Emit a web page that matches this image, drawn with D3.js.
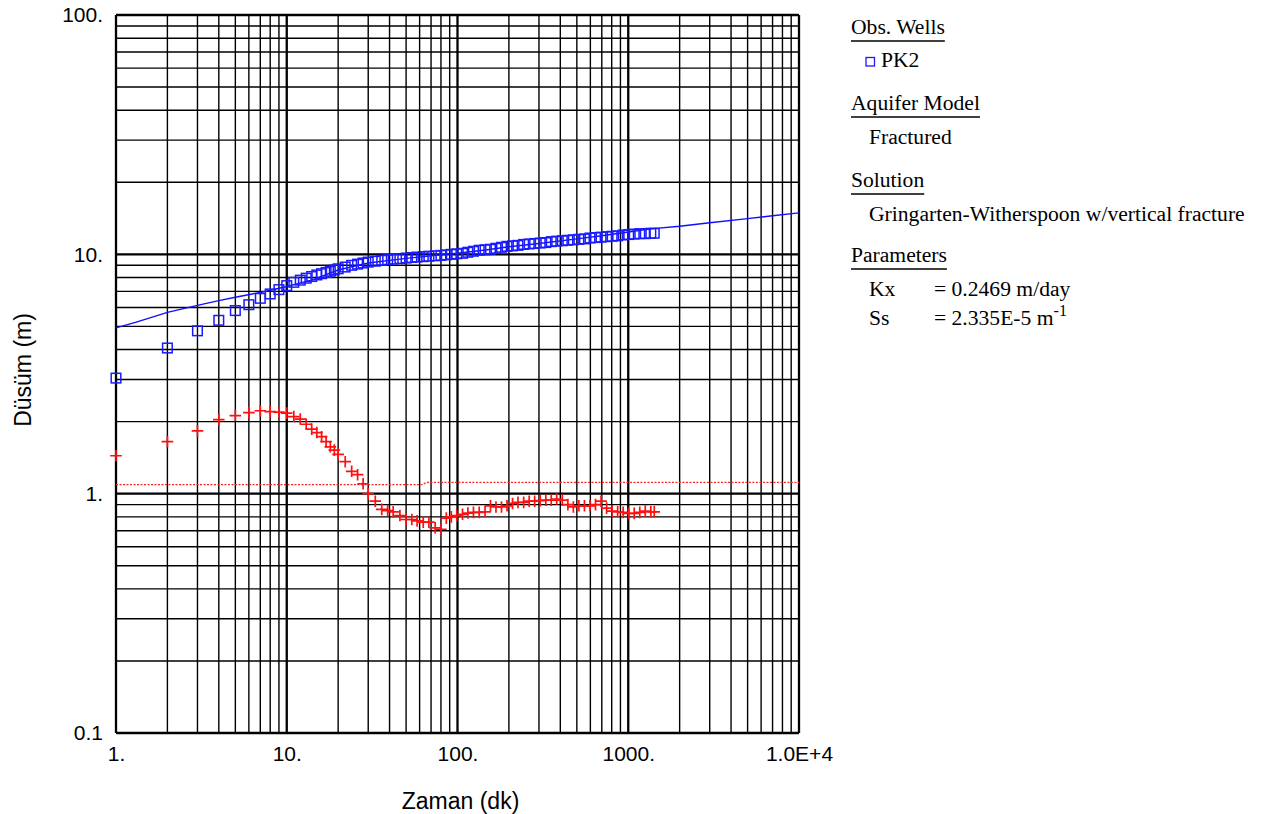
<!DOCTYPE html>
<html><head><meta charset="utf-8">
<script src="https://cdn.jsdelivr.net/npm/d3@7"></script>
<style>body{margin:0;background:#fff}</style>
</head><body><svg id="c" width="1270" height="814"></svg>
<script>
const times = [1,2,3,4,5,6,7,8,9,10,11,12,13,14,15,16,17,18,19,20,22,24,26,28,30,33,36,39,42,46,50,54,58,63,68,74,80,86,92,99,107,115,124,134,145,156,168,181,195,210,226,244,263,283,305,329,354,381,411,443,477,514,554,597,643,693,747,805,867,934,1006,1084,1168,1258,1356,1420];
const pk2Drawdown = [3.04,4.06,4.79,5.30,5.82,6.16,6.55,6.83,7.12,7.40,7.64,7.80,7.95,8.08,8.2,8.3,8.4,8.5,8.6,8.7,8.85,9.0,9.1,9.2,9.28,9.36,9.44,9.5,9.55,9.6,9.65,9.7,9.74,9.78,9.82,9.86,9.9,9.95,10.0,10.05,10.1,10.2,10.3,10.4,10.45,10.5,10.6,10.7,10.8,10.85,10.9,11.0,11.05,11.1,11.15,11.2,11.3,11.35,11.4,11.45,11.5,11.55,11.6,11.7,11.75,11.8,11.85,11.9,11.95,12.05,12.1,12.15,12.2,12.2,12.25,12.25];
const pk2Derivative = [1.44,1.65,1.83,2.04,2.12,2.18,2.22,2.20,2.19,2.17,2.10,2.05,1.95,1.86,1.80,1.73,1.65,1.57,1.52,1.46,1.36,1.24,1.20,1.10,1.00,0.93,0.86,0.85,0.84,0.81,0.78,0.78,0.77,0.76,0.76,0.72,0.71,0.79,0.80,0.81,0.82,0.83,0.835,0.835,0.84,0.89,0.88,0.88,0.89,0.91,0.92,0.92,0.93,0.93,0.935,0.94,0.94,0.95,0.94,0.90,0.88,0.89,0.89,0.89,0.90,0.93,0.87,0.845,0.84,0.835,0.827,0.827,0.835,0.845,0.84,0.84];
const fitTimes = [1,1.3,2,3,4,5,7,10,14,20,30,50,70,100,150,200,300,500,700,1000,1400,2000,3000,5000,7000,10000];
const fitDrawdown = [4.93,5.2,5.72,6.12,6.41,6.62,6.93,7.34,7.8,8.6,9.2,9.62,9.85,10.1,10.45,10.75,11.1,11.6,11.95,12.4,12.8,13.1,13.55,14.1,14.5,14.9];
const fitDerivTimes = [1,62,66,10000];
const fitDerivative = [1.09,1.09,1.115,1.115];
const xTickValues = [1,10,100,1000,10000];
const xTickLabels = ["1.","10.","100.","1000.","1.0E+4"];
const yTickValues = [0.1,1,10,100];
const yTickLabels = ["0.1","1.","10.","100."];

const svg = d3.select("#c");
const L=116, R=799, T=15, B=733;
const x = d3.scaleLog().domain([1,1e4]).range([L,R]);
const y = d3.scaleLog().domain([0.1,100]).range([B,T]);

const grid = svg.append("g");
const isMajor = v => Math.abs(Math.log10(v) - Math.round(Math.log10(v))) < 1e-9;
x.ticks().forEach(v=>{
  grid.append("line").attr("x1",x(v)).attr("x2",x(v)).attr("y1",T).attr("y2",B)
    .attr("stroke","#000").attr("stroke-width",isMajor(v)?2.3:1.4);
});
y.ticks().forEach(v=>{
  grid.append("line").attr("x1",L).attr("x2",R).attr("y1",y(v)).attr("y2",y(v))
    .attr("stroke","#000").attr("stroke-width",isMajor(v)?2.3:1.4);
});

const ax = svg.append("g").attr("transform",`translate(0,${B})`)
  .call(d3.axisBottom(x).tickValues(xTickValues).tickFormat((d,i)=>xTickLabels[i]).tickSize(0).tickPadding(13));
const ay = svg.append("g").attr("transform",`translate(${L},0)`)
  .call(d3.axisLeft(y).tickValues(yTickValues).tickFormat((d,i)=>yTickLabels[i]).tickSize(0).tickPadding(13));
[ax,ay].forEach(a=>{a.select(".domain").remove();
  a.selectAll("text").attr("font-family","Liberation Sans, Arial, sans-serif").attr("font-size",21).attr("fill","#000");});

svg.append("text").attr("x",(L+R)/2+3).attr("y",809).attr("text-anchor","middle")
  .attr("font-family","Liberation Sans, Arial, sans-serif").attr("font-size",23).text("Zaman (dk)");
svg.append("text").attr("transform",`translate(31,${(T+B)/2-4}) rotate(-90)`).attr("text-anchor","middle")
  .attr("font-family","Liberation Sans, Arial, sans-serif").attr("font-size",23).text("Düsüm (m)");

const plot = svg.append("g");
plot.append("path").datum(fitDerivTimes.map((t,i)=>[t,fitDerivative[i]]))
  .attr("d",d3.line().x(d=>x(d[0])).y(d=>y(d[1])))
  .attr("fill","none").attr("stroke","#ff2020").attr("stroke-width",1.3).attr("stroke-dasharray","2,1.5");
plot.append("path").datum(fitTimes.map((t,i)=>[t,fitDrawdown[i]]))
  .attr("d",d3.line().x(d=>x(d[0])).y(d=>y(d[1])))
  .attr("fill","none").attr("stroke","#1010ff").attr("stroke-width",1.4);

const s=4.8;
plot.selectAll("rect.sq").data(times.map((t,i)=>[t,pk2Drawdown[i]])).join("rect").attr("class","sq")
  .attr("x",d=>x(d[0])-s).attr("y",d=>y(d[1])-s).attr("width",2*s).attr("height",2*s)
  .attr("fill","none").attr("stroke","#1a1aff").attr("stroke-width",1.5);
const c=5.8;
plot.selectAll("path.cr").data(times.map((t,i)=>[t,pk2Derivative[i]])).join("path").attr("class","cr")
  .attr("d",d=>{const px=x(d[0]),py=y(d[1]);return `M${px-c},${py}H${px+c}M${px},${py-c}V${py+c}`;})
  .attr("stroke","#ff1010").attr("stroke-width",1.7).attr("fill","none");

// legend
const lg = svg.append("g").attr("font-family","Liberation Serif, Times New Roman, serif").attr("font-size",21.6).attr("fill","#000");
function head(txt,yb){
  const t=lg.append("text").attr("x",851).attr("y",yb).text(txt);
  const w=t.node().getComputedTextLength();
  lg.append("line").attr("x1",851).attr("x2",851+w).attr("y1",yb+7).attr("y2",yb+7).attr("stroke","#000").attr("stroke-width",1.5);
}
head("Obs. Wells",34);
lg.append("rect").attr("x",866).attr("y",57.5).attr("width",8.5).attr("height",8.5).attr("fill","none").attr("stroke","#1a1aff").attr("stroke-width",1.3);
lg.append("text").attr("x",881).attr("y",67).text("PK2");
head("Aquifer Model",110);
lg.append("text").attr("x",869).attr("y",144).text("Fractured");
head("Solution",187);
lg.append("text").attr("x",869).attr("y",221).text("Gringarten-Witherspoon w/vertical fracture");
head("Parameters",262);
lg.append("text").attr("x",869).attr("y",296).text("Kx");
lg.append("text").attr("x",934).attr("y",296).text("= 0.2469 m/day");
lg.append("text").attr("x",869).attr("y",325).text("Ss");
const ss=lg.append("text").attr("x",934).attr("y",325);
ss.append("tspan").text("= 2.335E-5 m");
ss.append("tspan").attr("dy",-9).attr("font-size",16).text("-1");
</script></body></html>
